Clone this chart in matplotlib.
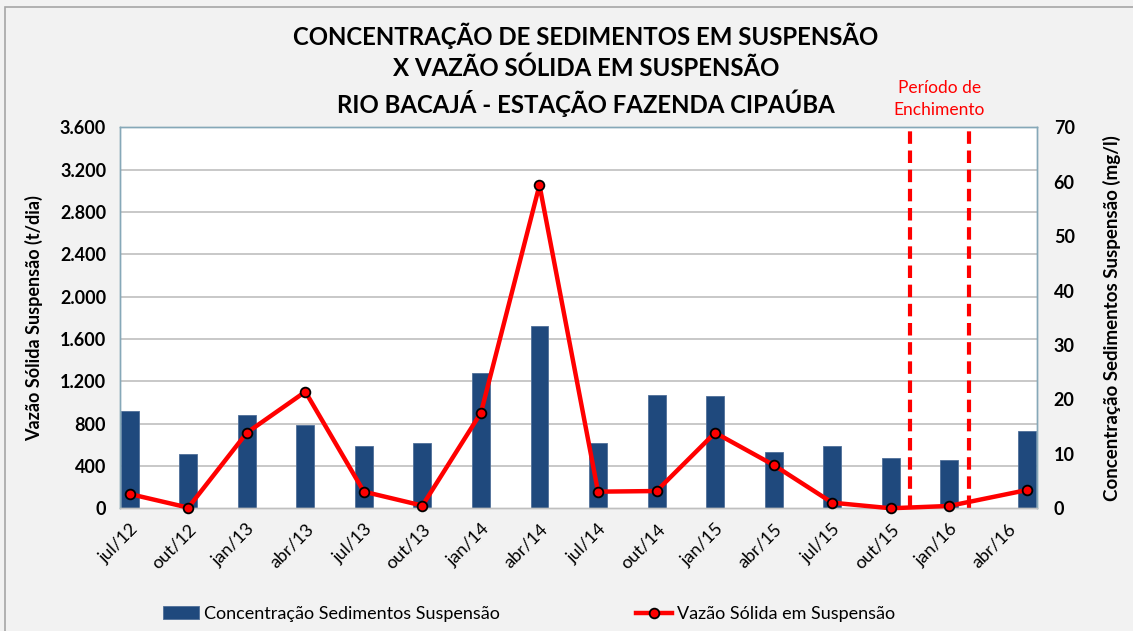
import matplotlib
matplotlib.use('Agg')
import matplotlib.pyplot as plt
import matplotlib.transforms as mtransforms
from matplotlib.ticker import FuncFormatter
from matplotlib.patches import Rectangle
import pandas as pd

plt.rcParams['font.family'] = ['Lato', 'DejaVu Sans']

# datas das campanhas (a última é maio/2016)
datas = ['2012-07', '2012-10', '2013-01', '2013-04', '2013-07', '2013-10',
         '2014-01', '2014-04', '2014-07', '2014-10', '2015-01', '2015-04',
         '2015-07', '2015-10', '2016-01', '2016-05']

# concentração de sedimentos em suspensão (mg/l) - barras, eixo direito
concentracao = [17.9, 10.0, 17.1, 15.3, 11.5, 12.0, 24.8, 33.5,
                12.0, 20.8, 20.6, 10.3, 11.5, 9.2, 8.9, 14.2]

# vazão sólida em suspensão (t/dia) - linha, eixo esquerdo
vazao_solida = [135, 6, 714, 1102, 157, 25, 903, 3055,
                157, 163, 714, 409, 53, 0, 22, 173]

# rótulos do eixo x (trimestrais)
rotulos = ['jul/12', 'out/12', 'jan/13', 'abr/13', 'jul/13', 'out/13',
           'jan/14', 'abr/14', 'jul/14', 'out/14', 'jan/15', 'abr/15',
           'jul/15', 'out/15', 'jan/16', 'abr/16']

# período de enchimento do reservatório
enchimento = ['2015-11', '2016-02']

# converte datas para meses a partir de jul/12
inicio = pd.Timestamp('2012-07')
def meses(d):
    d = pd.Timestamp(d)
    return (d.year - inicio.year) * 12 + d.month - inicio.month

x = [meses(d) for d in datas]
x_ticks = [3 * i for i in range(len(rotulos))]
x_ench = [meses(d) for d in enchimento]

fundo = '#f2f2f2'
fig = plt.figure(figsize=(11.33, 6.31), dpi=100, facecolor=fundo)
fig.patches.append(Rectangle((0.004, -0.01), 1.1, 0.999, transform=fig.transFigure,
                             fill=False, edgecolor='#a6a6a6', linewidth=1.2))

ax = fig.add_axes([0.1059, 0.1945, 0.8094, 0.6035])
ax2 = ax.twinx()

# linha acima das barras
ax.set_zorder(ax2.get_zorder() + 1)
ax.patch.set_visible(False)
ax2.patch.set_visible(True)
ax2.patch.set_facecolor('white')

ymax_esq = 3600
ymax_dir = 70
ticks_esq = list(range(0, ymax_esq + 1, 400))

# barras
ax2.bar(x, concentracao, width=0.92, color='#1f497d', edgecolor='#4f6f99',
        linewidth=0.6, zorder=2)
ax2.set_ylim(0, ymax_dir)
ax2.set_yticks(range(0, ymax_dir + 1, 10))
# grade do eixo esquerdo desenhada no eixo das barras (fica atrás delas)
ax2.set_yticks([t * ymax_dir / ymax_esq for t in ticks_esq], minor=True)
ax2.grid(True, which='minor', axis='y', color='#bfbfbf', linewidth=1.2, zorder=0)
ax2.set_axisbelow(True)
ax2.tick_params(axis='y', which='both', length=0)
ax2.tick_params(axis='y', which='major', labelsize=13, pad=12)
for t in ax2.get_yticklabels():
    t.set_fontweight('bold')
ax2.set_ylabel('Concentração Sedimentos Suspensão (mg/l)', fontsize=13.5,
               fontweight='bold', labelpad=20)

# linha
ax.plot(x, vazao_solida, color='red', linewidth=3.2, marker='o', markersize=7,
        markerfacecolor='red', markeredgecolor='black', markeredgewidth=1.3,
        zorder=3, clip_on=False)
ax.set_ylim(0, ymax_esq)
ax.set_yticks(ticks_esq)
ax.yaxis.set_major_formatter(FuncFormatter(lambda v, p: f'{v:,.0f}'.replace(',', '.')))
ax.tick_params(axis='y', length=0, labelsize=13, pad=10)
for t in ax.get_yticklabels():
    t.set_fontweight('bold')
ax.set_ylabel('Vazão Sólida Suspensão (t/dia)', fontsize=13, fontweight='bold', labelpad=12)

ax.set_xlim(-0.5, x[-1] + 0.5)
ax.set_xticks(x_ticks)
ax.set_xticklabels(rotulos, rotation=45, ha='right', rotation_mode='anchor', fontsize=13)
ax.tick_params(axis='x', length=0, pad=9)

# linhas tracejadas do período de enchimento
for xe in x_ench:
    ax.axvline(xe, color='red', linestyle=(0, (3, 1.6)), linewidth=3, zorder=2)
trans = mtransforms.blended_transform_factory(ax.transData, ax.transAxes)
ax.text(sum(x_ench) / len(x_ench), 1.075, 'Período de\nEnchimento', transform=trans,
        ha='center', va='center', color='red', fontsize=12.5, linespacing=1.4)

for a in (ax, ax2):
    for s in a.spines.values():
        s.set_color('#86a8b8')
        s.set_linewidth(1)
ax2.spines['bottom'].set_color('#bfbfbf')
ax.spines['bottom'].set_color('#bfbfbf')

fig.text(0.517, 0.889, 'CONCENTRAÇÃO DE SEDIMENTOS EM SUSPENSÃO\nX VAZÃO SÓLIDA EM SUSPENSÃO\n'
         'RIO BACAJÁ - ESTAÇÃO FAZENDA CIPAÚBA', ha='center', va='center',
         fontsize=17.3, fontweight='bold', linespacing=1.4)

fig.legend([ax2.containers[0], ax.lines[0]],
           ['Concentração Sedimentos Suspensão', 'Vazão Sólida em Suspensão'],
           loc='center', bbox_to_anchor=(0.467, 0.027), ncol=2, frameon=False,
           fontsize=13, columnspacing=7.5, handlelength=2, handletextpad=0.3)

fig.savefig('out.png', dpi=100, facecolor=fundo)
